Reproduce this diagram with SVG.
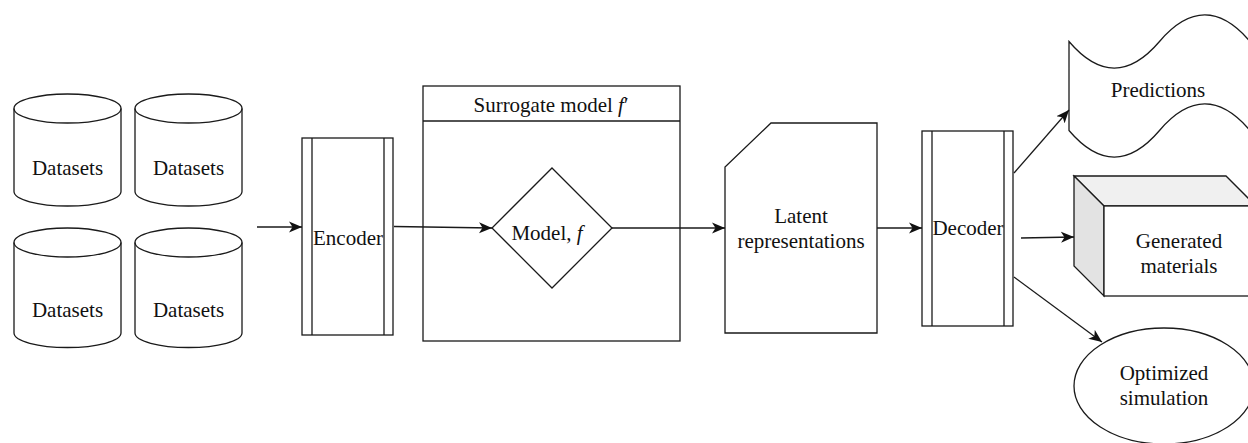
<svg xmlns="http://www.w3.org/2000/svg" width="1248" height="443" viewBox="0 0 1248 443" font-family="'Liberation Serif', 'DejaVu Serif', serif">
<style>
.s{fill:#fff;stroke:#1a1a1a;stroke-width:1.3}
.l{fill:none;stroke:#1a1a1a;stroke-width:1.3}
.c{stroke:#1a1a1a;stroke-width:1.3;fill:none}
.t{font-family:'Liberation Serif','DejaVu Serif',serif;font-size:21px;fill:#111;text-anchor:middle}
</style>
<defs>
<marker id="ah" markerUnits="userSpaceOnUse" markerWidth="14" markerHeight="12" viewBox="0 0 14 12" refX="13" refY="6" orient="auto">
<path d="M0,0.5 L13,6 L0,11.5 L3.5,6 Z" fill="#111"/>
</marker>
</defs>
<rect width="1248" height="443" fill="#fff"/>

<g id="ds1">
<path class="s" d="M14,108.5 A53.5,14.5 0 0 1 121,108.5 L121,191.5 A53.5,14.5 0 0 1 14,191.5 Z"/>
<path class="l" d="M14,108.5 A53.5,14.5 0 0 0 121,108.5"/>
<text class="t" font-family="Liberation Serif" x="67.5" y="175">Datasets</text>
</g>
<g id="ds2">
<path class="s" d="M135,108.5 A53.5,14.5 0 0 1 242,108.5 L242,191.5 A53.5,14.5 0 0 1 135,191.5 Z"/>
<path class="l" d="M135,108.5 A53.5,14.5 0 0 0 242,108.5"/>
<text class="t" font-family="Liberation Serif" x="188.5" y="175">Datasets</text>
</g>
<g id="ds3">
<path class="s" d="M14,242.5 A53.5,14.5 0 0 1 121,242.5 L121,333 A53.5,14.5 0 0 1 14,333 Z"/>
<path class="l" d="M14,242.5 A53.5,14.5 0 0 0 121,242.5"/>
<text class="t" font-family="Liberation Serif" x="67.5" y="317">Datasets</text>
</g>
<g id="ds4">
<path class="s" d="M135,242.5 A53.5,14.5 0 0 1 242,242.5 L242,333 A53.5,14.5 0 0 1 135,333 Z"/>
<path class="l" d="M135,242.5 A53.5,14.5 0 0 0 242,242.5"/>
<text class="t" font-family="Liberation Serif" x="188.5" y="317">Datasets</text>
</g>

<g id="encoder">
<rect class="s" x="302" y="138" width="91" height="197"/>
<line class="l" x1="312" y1="138" x2="312" y2="335"/>
<line class="l" x1="384" y1="138" x2="384" y2="335"/>
<text class="t" font-family="Liberation Serif" x="348" y="245">Encoder</text>
</g>

<g id="surrogate">
<rect class="s" x="423" y="86" width="257" height="255"/>
<line class="l" x1="423" y1="121" x2="680" y2="121"/>
<text class="t" font-family="Liberation Serif" x="551" y="112">Surrogate model <tspan font-style="italic">f</tspan>′</text>
</g>

<g id="model">
<path class="s" d="M552,168 L612,228 L552,288 L492,228 Z"/>
<text class="t" font-family="Liberation Serif" x="547" y="240">Model, <tspan font-style="italic">f</tspan></text>
</g>

<g id="latent">
<path class="s" d="M771,123 L877,123 L877,333 L725,333 L725,167 Z"/>
<text class="t" font-family="Liberation Serif" x="801" y="223">Latent</text>
<text class="t" font-family="Liberation Serif" x="801" y="248">representations</text>
</g>

<g id="decoder">
<rect class="s" x="922" y="131" width="91" height="195"/>
<line class="l" x1="932" y1="131" x2="932" y2="326"/>
<line class="l" x1="1004" y1="131" x2="1004" y2="326"/>
<text class="t" font-family="Liberation Serif" x="968" y="235">Decoder</text>
</g>

<g id="predictions">
<path class="s" d="M1069,41.5 Q1114.25,94.6 1159.5,41.5 Q1204.75,-11.6 1250,41.5 L1250,130.5 Q1204.75,77.4 1159.5,130.5 Q1114.25,183.6 1069,130.5 Z"/>
<text class="t" font-family="Liberation Serif" x="1158" y="97">Predictions</text>
</g>

<g id="materials">
<path d="M1074,176 L1226,176 L1256,206 L1104,206 Z" fill="#f0f0f0" stroke="#1a1a1a" stroke-width="1.3"/>
<path d="M1074,176 L1104,206 L1104,296 L1074,266 Z" fill="#e3e3e3" stroke="#1a1a1a" stroke-width="1.3"/>
<rect class="s" x="1104" y="206" width="152" height="90"/>
<text class="t" font-family="Liberation Serif" x="1179" y="248">Generated</text>
<text class="t" font-family="Liberation Serif" x="1179" y="273">materials</text>
</g>

<g id="simulation">
<ellipse class="s" cx="1164" cy="386" rx="90" ry="58"/>
<text class="t" font-family="Liberation Serif" x="1164" y="380">Optimized</text>
<text class="t" font-family="Liberation Serif" x="1164" y="405">simulation</text>
</g>

<g id="connectors">
<line class="c" x1="257" y1="227" x2="302" y2="227" marker-end="url(#ah)"/>
<line class="c" x1="394" y1="226.5" x2="492" y2="228" marker-end="url(#ah)"/>
<line class="c" x1="612" y1="228" x2="725" y2="228" marker-end="url(#ah)"/>
<line class="c" x1="877" y1="228" x2="922" y2="228" marker-end="url(#ah)"/>
<line class="c" x1="1014" y1="173" x2="1069" y2="110" marker-end="url(#ah)"/>
<line class="c" x1="1021" y1="238" x2="1074" y2="237" marker-end="url(#ah)"/>
<line class="c" x1="1014" y1="277" x2="1102" y2="342" marker-end="url(#ah)"/>
</g>
</svg>
